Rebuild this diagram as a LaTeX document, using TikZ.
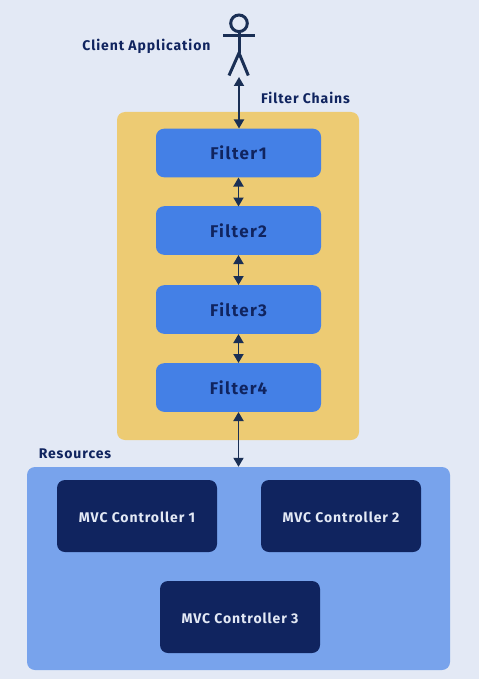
\documentclass[tikz,border=0pt]{standalone}
\usepackage{fontspec}
\setmainfont{Fira Sans}
\newfontfamily\filterfont[LetterSpace=8]{Fira Sans}
\newfontfamily\labfont[LetterSpace=6.5]{Fira Sans}
\usetikzlibrary{arrows.meta}
\definecolor{bgc}{HTML}{E3E9F5}
\definecolor{chainc}{HTML}{EDCB73}
\definecolor{filterc}{HTML}{4480E6}
\definecolor{resc}{HTML}{78A3EC}
\definecolor{navy}{HTML}{10245F}
\definecolor{linec}{HTML}{1A2F55}
\tikzset{
  x=1pt,y=-1pt,
  filterbox/.style={fill=filterc,rounded corners=8pt,minimum width=165pt,minimum height=48.6pt,inner sep=0pt,text=navy,text height=14pt,text depth=0pt,font=\filterfont\fontsize{17}{19}\selectfont\bfseries},
  mvcbox/.style={fill=navy,rounded corners=8pt,minimum width=160pt,minimum height=72pt,inner sep=0pt,text=bgc,text height=12.4pt,text depth=0pt,font=\labfont\fontsize{14}{16}\selectfont\bfseries},
  lab/.style={text=navy,inner sep=0pt,font=\labfont\fontsize{14}{16}\selectfont\bfseries},
  both/.style={draw=linec,line width=1.8pt,{Triangle[length=9pt,width=10pt]}-{Triangle[length=9pt,width=10pt]}},
  stick/.style={draw=linec,line width=3pt}
}
\begin{document}
\begin{tikzpicture}
\useasboundingbox (0,0) rectangle (479,679);
\fill[bgc] (0,0) rectangle (479,679);
\node[fill=chainc,rounded corners=8pt,minimum width=242pt,minimum height=328pt,inner sep=0pt] (chain) at (238,276) {};
\node[fill=resc,rounded corners=8pt,minimum width=423pt,minimum height=203pt,inner sep=0pt] (res) at (238.5,568.5) {};
\node[filterbox] (f1) at (238.5,153) {Filter1};
\node[filterbox] (f2) at (238.5,230.5) {Filter2};
\node[filterbox] (f3) at (238.5,309.5) {Filter3};
\node[filterbox] (f4) at (238.5,387.5) {Filter4};
\node[mvcbox] (m1) at (137,516) {MVC Controller 1};
\node[mvcbox] (m2) at (341,516) {MVC Controller 2};
\node[mvcbox] (m3) at (240,617) {MVC Controller 3};
\node[lab] (client) at (146.5,46.7) {Client Application};
\node[lab] (chains) at (305.5,98.2) {Filter Chains};
\node[lab] (resl) at (75,453.7) {Resources};
% actor
\node[draw=linec,line width=3pt,circle,minimum size=16.6pt,inner sep=0pt] (head) at (239,23.3) {};
\coordinate (hip) at (239,53);
\coordinate (foot) at (239,77);
\draw[stick] (head.south) -- (hip);
\draw[stick] (223,36) -- (255,36);
\draw[stick] (229,75.5) -- (hip) -- (248.3,75.5);
% connectors
\draw[both] (foot) -- (f1.north -| foot);
\draw[both] (f1) ++(0,24.5) -- ++(0,29);
\draw[both] (f2) ++(0,24.5) -- ++(0,30);
\draw[both] (f3) ++(0,24.5) -- ++(0,29);
\draw[both] (f4.south) -- (res.north);
\end{tikzpicture}
\end{document}
